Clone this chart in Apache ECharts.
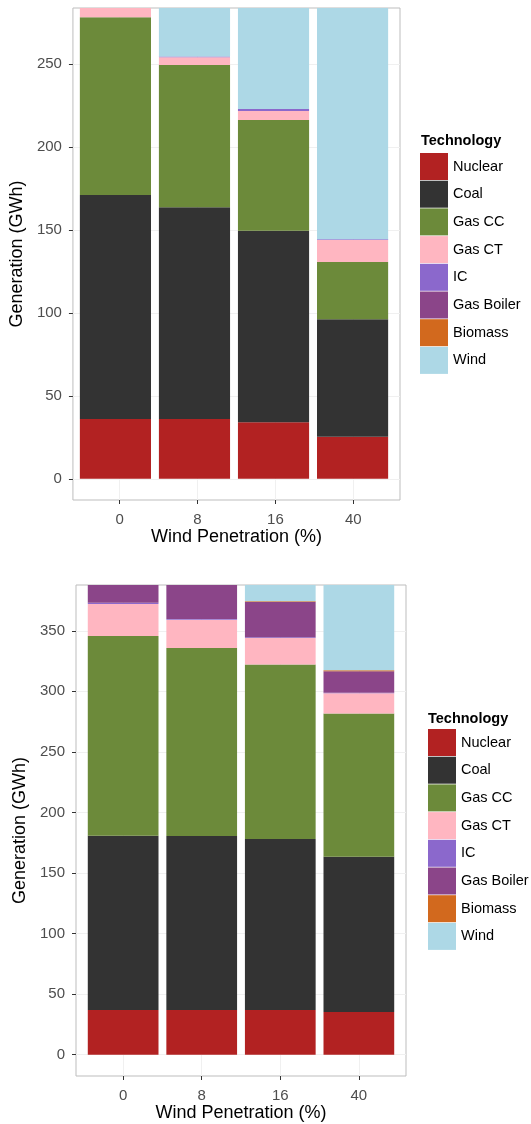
<!DOCTYPE html>
<html>
<head>
<meta charset="utf-8">
<script src="https://cdn.jsdelivr.net/npm/echarts@6/dist/echarts.min.js"></script>
<style>
  html, body { margin: 0; padding: 0; background: #fff; }
  #main { width: 531px; height: 1124px; }
</style>
</head>
<body>
<div id="main"></div>
<script>
var categories = ['0', '8', '16', '40'];
var techs = ['Nuclear', 'Coal', 'Gas CC', 'Gas CT', 'IC', 'Gas Boiler', 'Biomass', 'Wind'];
var colors = ['#B22222', '#333333', '#6C8A3A', '#FFB6C1', '#8B68CC', '#8B4589', '#D2691E', '#ADD8E6'];
var yTicks1 = [0, 50, 100, 150, 200, 250];
var yTicks2 = [0, 50, 100, 150, 200, 250, 300, 350];

// top chart (GWh)
var nuclear1 = [36, 36, 34, 25.3];
var coal1 = [135, 127.6, 115.5, 70.8];
var gasCC1 = [107.1, 85.8, 66.7, 34.5];
var gasCT1 = [6, 4.6, 5.4, 13.3];
var ic1 = [0, 0.5, 1.2, 0.5];
var boiler1 = [0, 0, 0, 0];
var biomass1 = [0, 0, 0, 0];
var wind1 = [0, 31, 62, 141];

// bottom chart (GWh)
var nuclear2 = [36.9, 36.9, 36.9, 35.2];
var coal2 = [143.8, 143.6, 141.1, 128.2];
var gasCC2 = [165, 155.3, 144.1, 118.3];
var gasCT2 = [26.4, 23.4, 22, 16.7];
var ic2 = [1, 0.5, 0.5, 0.5];
var boiler2 = [17, 31, 29.2, 17.7];
var biomass2 = [0, 0, 0.5, 0.8];
var wind2 = [0, 0, 17, 73];

var topData = [nuclear1, coal1, gasCC1, gasCT1, ic1, boiler1, biomass1, wind1];
var botData = [nuclear2, coal2, gasCC2, gasCT2, ic2, boiler2, biomass2, wind2];

var font = 'Liberation Sans, Arial, sans-serif';

// panel boxes like ggplot: 0.6 category of padding each side
var panels = [
    { left: 68, top: 8, width: 332, height: 492, ymin: -12.8, ymax: 283.7, ticks: yTicks1, xGap: 27, yGap: 42 },
    { left: 76, top: 585, width: 330, height: 491, ymin: -17.6, ymax: 387.8, ticks: yTicks2, xGap: 25, yGap: 43 }
];

var grids = [], xAxes = [], yAxes = [];
panels.forEach(function (p, idx) {
    grids.push({ left: p.left, top: p.top, width: p.width, height: p.height, show: true,
        borderColor: '#bdbdbd', borderWidth: 1, backgroundColor: '#fff' });
    xAxes.push({
        type: 'value', gridIndex: idx, min: -0.6, max: 3.6,
        name: 'Wind Penetration (%)', nameLocation: 'middle', nameGap: p.xGap,
        nameTextStyle: { fontFamily: font, fontSize: 18, color: '#000' },
        axisLine: { show: false, onZero: false },
        axisTick: { show: true, length: 4, customValues: [0, 1, 2, 3], lineStyle: { color: '#333' } },
        axisLabel: {
            customValues: [0, 1, 2, 3], margin: 12,
            fontFamily: font, fontSize: 15, color: '#4d4d4d',
            formatter: function (v) { return categories[Math.round(v)]; }
        },
        splitLine: { show: true, lineStyle: { color: '#f0f0f0' } }
    });
    yAxes.push({
        type: 'value', gridIndex: idx, min: p.ymin, max: p.ymax,
        name: 'Generation (GWh)', nameLocation: 'middle', nameGap: p.yGap,
        nameTextStyle: { fontFamily: font, fontSize: 18, color: '#000' },
        axisLine: { show: false, onZero: false },
        axisTick: { show: true, length: 4, customValues: p.ticks, lineStyle: { color: '#333' } },
        axisLabel: { customValues: p.ticks, margin: 11, fontFamily: font, fontSize: 15, color: '#4d4d4d' },
        splitLine: { show: true, lineStyle: { color: '#f0f0f0' } }
    });
});
// data grids: category axis over the inner 4 bands
panels.forEach(function (p, idx) {
    var band = p.width / 4.2;
    grids.push({ left: p.left + 0.1 * band, top: p.top, width: 4 * band, height: p.height });
    xAxes.push({ type: 'category', gridIndex: idx + 2, data: categories, show: false });
    yAxes.push({ type: 'value', gridIndex: idx + 2, min: p.ymin, max: p.ymax, show: false });
});

var series = [];
[topData, botData].forEach(function (set, idx) {
    techs.forEach(function (name, i) {
        series.push({
            name: name,
            type: 'bar',
            xAxisIndex: idx + 2,
            yAxisIndex: idx + 2,
            stack: 'gen' + idx,
            barWidth: '90%',
            itemStyle: { color: colors[i] },
            data: set[i]
        });
    });
});

function legendFor(left, topPx) {
    return {
        orient: 'vertical', left: left, top: topPx, padding: 0,
        itemWidth: 28, itemHeight: 27, itemGap: 0.7,
        icon: 'rect', selectedMode: false, data: techs,
        textStyle: { fontFamily: font, fontSize: 14.5, color: '#000' }
    };
}

var chart = echarts.init(document.getElementById('main'));
chart.setOption({
    animation: false,
    backgroundColor: '#fff',
    title: [
        { text: 'Technology', left: 421, top: 133, padding: 0, textStyle: { fontFamily: font, fontSize: 14.5, fontWeight: 'bold', color: '#000' } },
        { text: 'Technology', left: 428, top: 711, padding: 0, textStyle: { fontFamily: font, fontSize: 14.5, fontWeight: 'bold', color: '#000' } }
    ],
    legend: [legendFor(420, 153), legendFor(428, 729)],
    grid: grids,
    xAxis: xAxes,
    yAxis: yAxes,
    series: series
});
</script>
</body>
</html>
